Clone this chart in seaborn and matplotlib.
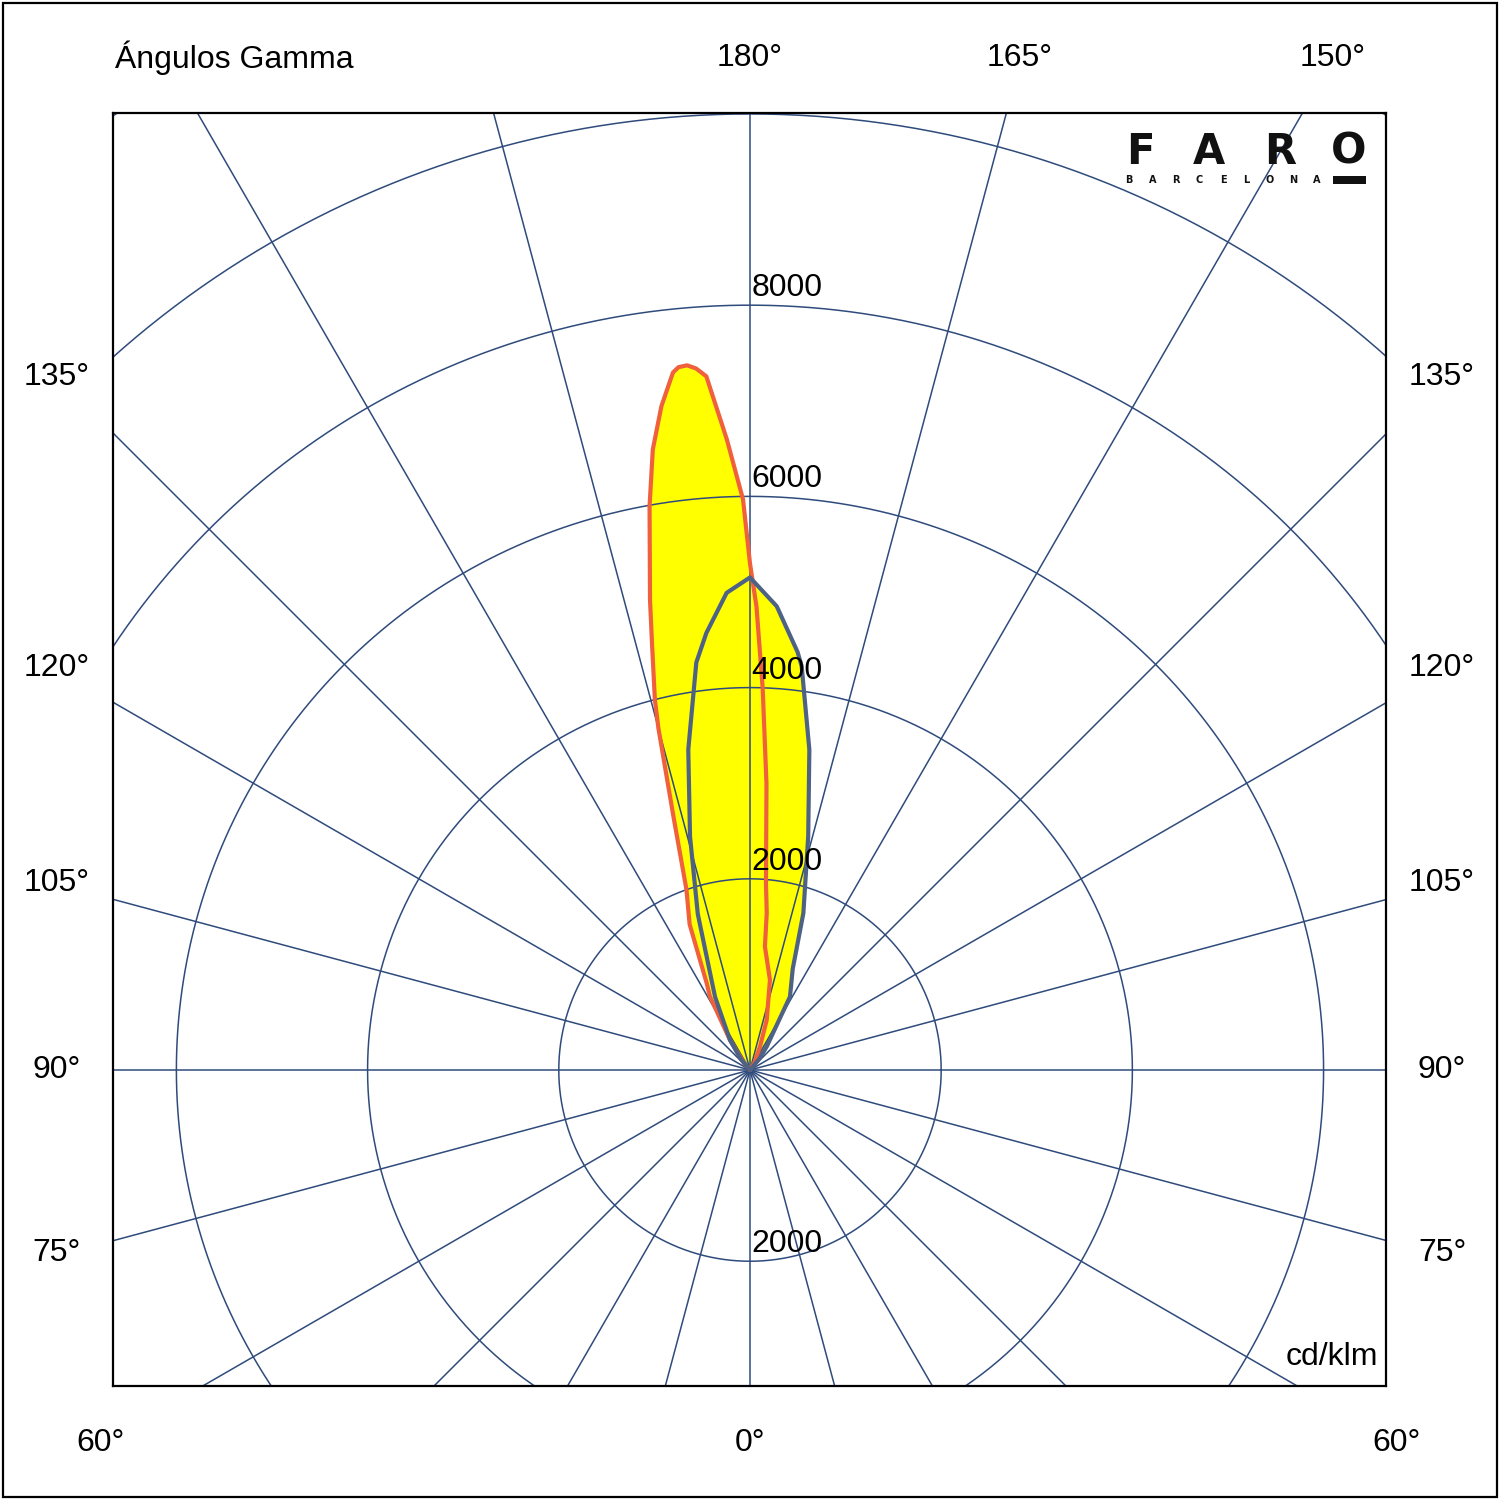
import numpy as np
import pandas as pd
import matplotlib.pyplot as plt
import seaborn as sns
from matplotlib.patches import Rectangle

# polar curves: angle from the 180° axis (negative = left half), intensity in cd/klm
red_angles = [40, 30, 23.2, 18.5, 12.5, 9, 6.9, 6.1, 4.9, 3.3, 1.9, 0.8, 0,
              -0.7, -2.1, -3.6, -4.4, -5.1, -5.8, -6.3, -7.6, -8.9, -10.1, -12.0,
              -13.0, -14.4, -15.0, -16.8, -19.4, -22.5, -26.5, -28.6, -33.7, -40, -50]
red_values = [0, 100, 266, 552, 965, 1150, 1300, 1650, 1960, 3000, 4000, 4850, 5300,
              5970, 6600, 7270, 7360, 7400, 7390, 7340, 7005, 6570, 5990, 5030,
              4550, 4000, 3700, 2770, 2000, 1650, 1015, 874, 377, 100, 0]

blue_angles = [50, 40, 35.6, 28.6, 22.9, 18.8, 14.0, 10.5, 7.3, 6.5, 3.3, 0,
               -2.8, -5.7, -7.5, -10.9, -14.4, -18.5, -25.5, -33.7, -40, -50]
blue_values = [0, 150, 300, 874, 1150, 1733, 2518, 3408, 4257, 4400, 4859, 5152,
               4997, 4594, 4300, 3413, 2522, 1720, 850, 377, 150, 0]

ring_values = [2000, 4000, 6000, 8000, 10000, 12000]
ring_labels_up = [8000, 6000, 4000, 2000]
ring_labels_down = [2000]
spoke_angles = list(range(0, 360, 15))

top_labels = ["180°", "165°", "150°"]
side_labels = ["135°", "120°", "105°", "90°", "75°"]
bottom_labels = ["60°", "0°", "60°"]

sns.set_style("white")
plt.rcParams['font.family'] = ['Liberation Sans', 'DejaVu Sans']
plt.rcParams['text.color'] = 'black'

GRID = '#2f4b7c'
RED = '#f0603c'
BLUE = '#4d6285'
YELLOW = '#ffff00'
FS = 23


def to_xy(angles, values):
    a = np.radians(np.array(angles, dtype=float))
    v = np.array(values, dtype=float)
    return pd.DataFrame({'x': v * np.sin(a), 'y': v * np.cos(a)})


red = to_xy(red_angles, red_values)
blue = to_xy(blue_angles, blue_values)

fig = plt.figure(figsize=(15, 15), dpi=100)
ax = fig.add_axes([113 / 1500, 114 / 1500, 1273 / 1500, 1273 / 1500])

# yellow filled lobes
ax.fill(red['x'], red['y'], color=YELLOW, lw=0, zorder=1)
ax.fill(blue['x'], blue['y'], color=YELLOW, lw=0, zorder=1)

# polar grid
t = np.linspace(0, 2 * np.pi, 721)
for r in ring_values:
    ax.plot(r * np.cos(t), r * np.sin(t), color=GRID, lw=1.1, zorder=2)
for a in spoke_angles:
    ar = np.radians(a)
    ax.plot([0, 20000 * np.sin(ar)], [0, 20000 * np.cos(ar)], color=GRID, lw=1.1, zorder=2)

# curves
sns.lineplot(data=red, x='x', y='y', sort=False, estimator=None, color=RED, lw=3, ax=ax, zorder=3)
sns.lineplot(data=blue, x='x', y='y', sort=False, estimator=None, color=BLUE, lw=3, ax=ax, zorder=3)

# ring values
for r in ring_labels_up:
    ax.text(15, r + 95, str(r), fontsize=FS, ha='left', va='baseline', zorder=5)
for r in ring_labels_down:
    ax.text(15, -r + 95, str(r), fontsize=FS, ha='left', va='baseline', zorder=5)

ax.set_xlim(-6663, 6653)
ax.set_ylim(-3305, 10010)
ax.set_xticks([])
ax.set_yticks([])
ax.set_xlabel('')
ax.set_ylabel('')
for s in ax.spines.values():
    s.set_visible(True)
    s.set_color('black')
    s.set_linewidth(1.6)


def px(x, y):
    return x / 1500, 1 - y / 1500


fig.text(*px(115, 58), "Ángulos Gamma", fontsize=FS, ha='left', va='center')
for lab, xp in zip(top_labels, [750, 1020, 1333]):
    fig.text(*px(xp, 58), lab, fontsize=FS, ha='center', va='center')
for lab, yp in zip(side_labels, [377, 668, 883, 1070, 1253]):
    fig.text(*px(57, yp), lab, fontsize=FS, ha='center', va='center')
    fig.text(*px(1442, yp), lab, fontsize=FS, ha='center', va='center')
for lab, xp in zip(bottom_labels, [101, 750, 1397]):
    fig.text(*px(xp, 1443), lab, fontsize=FS, ha='center', va='center')
fig.text(*px(1378, 1357), "cd/klm", fontsize=FS, ha='right', va='center')

# FARO logo
for ch, xp in zip("FARO", [1140, 1209, 1280, 1349]):
    fig.text(*px(xp, 152), ch, fontsize=30, ha='center', va='center',
             fontweight='black', family=['DejaVu Sans'], color='#111111')
for i, ch in enumerate("BARCELONA"):
    fig.text(*px(1129 + i * 23.5, 180), ch, fontsize=7, ha='center', va='center',
             fontweight='bold', family=['DejaVu Sans'], color='#111111')
fig.patches.append(Rectangle(px(1333, 184), 33 / 1500, 8 / 1500, transform=fig.transFigure,
                             facecolor='#111111', edgecolor='none'))

# outer frame
fig.patches.append(Rectangle((3 / 1500, 3 / 1500), 1494 / 1500, 1494 / 1500, transform=fig.transFigure,
                             fill=False, edgecolor='black', lw=1.6))

fig.savefig('out.png', dpi=100)
